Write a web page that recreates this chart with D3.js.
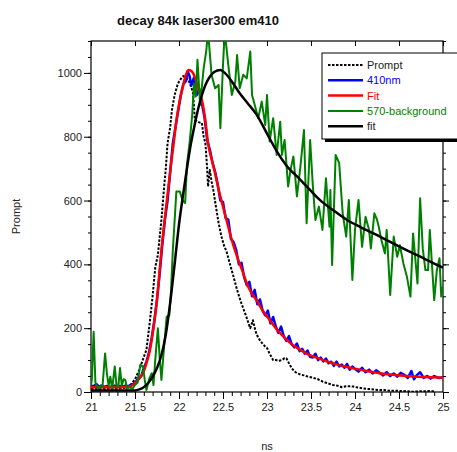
<!DOCTYPE html>
<html>
<head>
<meta charset="utf-8">
<script src="https://cdn.jsdelivr.net/npm/d3@7"></script>
<style>
  body { margin: 0; background: #fff; }
  svg { display: block; font-family: "Liberation Sans", Arial, sans-serif; }
  .axis text { font-size: 11px; fill: #222; }
  .axis path, .axis line { stroke: #000; }
</style>
</head>
<body>
<div id="viz"></div>
<script>
// Datos: [ns, cuentas]
let prompt = [
  [21.00,10],[21.05,10],[21.10,9],[21.15,10],[21.20,9],[21.25,10],[21.30,10],[21.35,11],[21.40,14],[21.45,22],
  [21.50,40],[21.55,70],[21.60,110],[21.63,132],[21.66,200],[21.70,300],[21.73,390],[21.76,430],[21.80,539],[21.83,640],
  [21.85,700],[21.87,780],[21.90,830],[21.92,884],[21.95,930],[21.98,960],[22.00,973],[22.03,985],[22.05,990],[22.08,985],
  [22.11,975],[22.14,955],[22.16,937],[22.18,853],[22.20,850],[22.23,845],[22.26,843],[22.28,800],[22.30,780],[22.32,700],
  [22.33,644],[22.35,696],[22.37,660],[22.39,633],[22.42,580],[22.45,530],[22.48,490],[22.51,460],[22.54,440],[22.58,400],
  [22.62,361],[22.66,320],[22.70,285],[22.73,262],[22.76,240],[22.79,215],[22.81,200],[22.84,225],[22.87,190],[22.90,170],
  [22.94,155],[22.97,145],[23.00,138],[23.03,120],[23.07,100],[23.10,100],[23.13,98],[23.17,100],[23.20,106],[23.22,106],
  [23.25,90],[23.28,75],[23.31,65],[23.34,59],[23.38,55],[23.42,52],[23.47,48],[23.53,44],[23.58,40],[23.63,33],
  [23.68,28],[23.75,22],[23.80,20],[23.85,15],[23.90,18],[23.95,18],[23.98,17],[24.03,14],[24.08,12],[24.13,10],
  [24.18,9],[24.23,7],[24.28,6],[24.33,6],[24.40,4],[24.47,4],[24.54,3],[24.60,2],[24.66,1],[24.72,2],
  [24.78,2],[24.84,3],[24.90,2]
];

let em410 = [
  [21.00,20],[21.03,18],[21.06,25],[21.09,17],[21.12,20],[21.15,16],[21.18,19],[21.21,15],[21.24,18],[21.27,20],
  [21.30,16],[21.33,19],[21.36,17],[21.39,20],[21.42,18],[21.45,22],[21.48,25],[21.51,32],[21.54,45],[21.57,50],
  [21.60,75],[21.63,95],[21.66,125],[21.69,170],[21.72,225],[21.75,290],[21.78,370],[21.81,460],[21.84,540],[21.87,600],
  [21.90,690],[21.93,780],[21.96,830],[21.99,880],[22.02,930],[22.05,965],[22.08,975],[22.10,1005],[22.12,990],[22.14,960],
  [22.17,985],[22.20,930],[22.23,950],[22.26,905],[22.29,860],[22.32,790],[22.35,760],[22.38,720],[22.41,690],[22.44,650],
  [22.47,600],[22.50,595],[22.53,545],[22.56,540],[22.59,480],[22.62,470],[22.65,445],[22.68,400],[22.71,405],[22.74,360],
  [22.77,335],[22.80,345],[22.83,300],[22.86,320],[22.89,275],[22.92,290],[22.95,255],[22.98,240],[23.01,255],[23.04,215],
  [23.07,235],[23.10,205],[23.13,185],[23.16,205],[23.19,175],[23.22,160],[23.25,175],[23.28,150],[23.31,140],[23.34,152],
  [23.37,128],[23.40,135],[23.43,120],[23.46,130],[23.49,110],[23.52,108],[23.55,120],[23.58,100],[23.61,108],[23.64,96],
  [23.67,105],[23.70,90],[23.73,95],[23.76,82],[23.79,95],[23.82,80],[23.85,86],[23.88,76],[23.91,88],[23.94,70],
  [23.97,80],[24.00,72],[24.04,64],[24.08,76],[24.12,62],[24.16,70],[24.20,58],[24.24,68],[24.28,60],[24.32,52],
  [24.36,62],[24.40,50],[24.44,58],[24.48,48],[24.52,60],[24.56,54],[24.60,44],[24.64,66],[24.67,40],[24.70,52],
  [24.74,62],[24.78,44],[24.82,50],[24.86,42],[24.90,50],[24.95,44],[25.00,46]
];

let fit410 = [
  [21.00,15],[21.20,15],[21.40,16],[21.44,17],[21.50,28],[21.55,42],[21.59,59],[21.63,90],[21.67,132],[21.71,200],
  [21.75,288],[21.78,380],[21.80,445],[21.84,545],[21.88,644],[21.91,715],[21.94,780],[21.97,850],[22.01,915],[22.05,965],
  [22.08,995],[22.11,1009],[22.14,1006],[22.16,999],[22.20,970],[22.23,940],[22.26,915],[22.30,850],[22.33,780],[22.37,730],
  [22.41,686],[22.45,635],[22.50,581],[22.55,528],[22.60,476],[22.66,424],[22.72,380],[22.77,340],[22.82,312],[22.88,288],
  [22.95,255],[23.03,226],[23.10,200],[23.19,173],[23.28,150],[23.38,132],[23.45,120],[23.53,111],[23.64,100],[23.75,90],
  [23.86,81],[23.98,74],[24.13,66],[24.28,59],[24.43,54],[24.59,50],[24.80,47],[25.00,45]
];

let bg570 = [
  [21.00,20],[21.01,40],[21.03,189],[21.05,30],[21.07,15],[21.09,10],[21.11,20],[21.13,15],[21.16,121],[21.18,60],
  [21.20,20],[21.22,48],[21.24,10],[21.27,80],[21.29,20],[21.31,15],[21.33,75],[21.35,20],[21.37,40],[21.39,38],
  [21.41,10],[21.44,15],[21.47,10],[21.50,22],[21.53,30],[21.56,85],[21.59,80],[21.61,40],[21.63,6],[21.66,40],
  [21.69,59],[21.71,22],[21.73,100],[21.76,200],[21.78,110],[21.80,38],[21.83,140],[21.86,236],[21.89,240],[21.91,320],
  [21.93,445],[21.97,628],[22.01,628],[22.04,600],[22.07,592],[22.09,712],[22.12,780],[22.15,868],[22.17,967],[22.19,926],
  [22.21,1041],[22.24,900],[22.28,1014],[22.31,1070],[22.33,1130],[22.37,994],[22.41,952],[22.45,962],[22.47,827],[22.50,1025],
  [22.52,1130],[22.56,1025],[22.60,931],[22.64,973],[22.66,1056],[22.69,952],[22.73,994],[22.77,983],[22.81,1067],[22.83,931],
  [22.86,900],[22.90,858],[22.94,910],[22.98,837],[23.00,931],[23.03,785],[23.07,858],[23.11,743],[23.15,847],[23.17,743],
  [23.20,790],[23.24,644],[23.27,700],[23.30,738],[23.34,613],[23.38,707],[23.42,821],[23.45,529],[23.49,790],[23.52,650],
  [23.55,539],[23.59,581],[23.63,508],[23.67,670],[23.71,518],[23.72,633],[23.74,398],[23.78,743],[23.82,717],[23.86,560],
  [23.90,487],[23.93,602],[23.97,351],[24.00,508],[24.04,602],[24.08,455],[24.12,549],[24.16,508],[24.18,450],[24.22,560],
  [24.25,540],[24.27,518],[24.30,476],[24.34,434],[24.36,508],[24.40,304],[24.44,487],[24.48,424],[24.51,460],[24.55,403],
  [24.59,361],[24.63,299],[24.66,497],[24.71,340],[24.74,607],[24.77,450],[24.80,382],[24.83,382],[24.85,508],[24.90,288],
  [24.93,382],[24.96,419],[24.98,299],[25.00,330]
];

let fit570 = [
  [21.00,5],[21.50,5],[21.55,8],[21.60,15],[21.65,28],[21.70,48],[21.75,75],[21.80,115],[21.85,180],[21.90,280],
  [21.95,400],[22.00,525],[22.05,625],[22.09,700],[22.13,770],[22.18,840],[22.22,890],[22.26,930],[22.30,962],[22.35,988],
  [22.40,1003],[22.47,1009],[22.52,1000],[22.56,988],[22.62,965],[22.69,936],[22.78,905],[22.88,870],[23.00,810],
  [23.11,755],[23.22,710],[23.38,665],[23.50,630],[23.60,602],[23.75,570],[23.91,539],[24.06,517],[24.21,497],[24.36,476],
  [24.51,455],[24.65,436],[24.78,419],[24.90,402],[25.00,390]
];

let xTicks = [21, 21.5, 22, 22.5, 23, 23.5, 24, 24.5, 25];
let yTicks = [0, 200, 400, 600, 800, 1000];

let series = [
  { name: 'Prompt',         datos: prompt, color: '#000000', dash: '2.5,1.5', ancho: 2,   suave: false },
  { name: '410nm',          datos: em410,  color: '#0000ff', dash: null,      ancho: 2.5, suave: false },
  { name: 'Fit',            datos: fit410, color: '#ff0000', dash: null,      ancho: 2.5, suave: true },
  { name: '570-background', datos: bg570,  color: '#008000', dash: null,      ancho: 2,   suave: false },
  { name: 'fit',            datos: fit570, color: '#000000', dash: null,      ancho: 2.5, suave: true }
];

// Dimensiones
let w = 457;
let h = 452;
let izq = 91, der = 443, arriba = 41, abajo = 392;

let svg = d3.select('#viz')
  .append('svg')
    .attr('width', w)
    .attr('height', h);

let x = d3.scaleLinear().domain([21, 25]).range([izq, der]);
let y = d3.scaleLinear().domain([0, 1100]).range([abajo, arriba]);

svg.append('clipPath')
    .attr('id', 'recorte')
  .append('rect')
    .attr('x', izq).attr('y', arriba)
    .attr('width', der - izq).attr('height', abajo - arriba);

// Ejes
let menoresX = d3.range(210, 251).map(d => d / 10);
let menoresY = d3.range(0, 1101, 50);

// Eje X abajo
svg.append('g').attr('class', 'axis')
  .attr('transform', `translate(0,${abajo})`)
  .call(d3.axisBottom(x).tickValues(menoresX).tickSize(4).tickFormat(''))
  .call(g => g.select('.domain').remove());
svg.append('g').attr('class', 'axis')
  .attr('transform', `translate(0,${abajo})`)
  .call(d3.axisBottom(x).tickValues(xTicks).tickSize(7).tickPadding(4).tickFormat(d3.format('')))
  .call(g => g.select('.domain').remove());

// Eje X arriba (ticks hacia adentro)
svg.append('g').attr('class', 'axis')
  .attr('transform', `translate(0,${arriba})`)
  .call(d3.axisBottom(x).tickValues(xTicks).tickSize(5).tickFormat(''))
  .call(g => g.select('.domain').remove());

// Eje Y izquierda
svg.append('g').attr('class', 'axis')
  .attr('transform', `translate(${izq},0)`)
  .call(d3.axisLeft(y).tickValues(menoresY).tickSize(3).tickFormat(''))
  .call(g => g.select('.domain').remove());
svg.append('g').attr('class', 'axis')
  .attr('transform', `translate(${izq},0)`)
  .call(d3.axisLeft(y).tickValues(yTicks).tickSize(7).tickPadding(2).tickFormat(d3.format('d')))
  .call(g => g.select('.domain').remove());

// Eje Y derecha
svg.append('g').attr('class', 'axis')
  .attr('transform', `translate(${der},0)`)
  .call(d3.axisRight(y).tickValues(menoresY).tickSize(3).tickFormat(''))
  .call(g => g.select('.domain').remove());
svg.append('g').attr('class', 'axis')
  .attr('transform', `translate(${der},0)`)
  .call(d3.axisRight(y).tickValues(yTicks).tickSize(6).tickFormat(''))
  .call(g => g.select('.domain').remove());

// Marco
svg.append('rect')
  .attr('x', izq).attr('y', arriba)
  .attr('width', der - izq).attr('height', abajo - arriba)
  .attr('fill', 'none').attr('stroke', '#000').attr('stroke-width', 1.2);

// Curvas
let capa = svg.append('g').attr('clip-path', 'url(#recorte)');
series.forEach(function(s) {
  let linea = d3.line()
    .x(d => x(d[0]))
    .y(d => y(d[1]))
    .curve(s.suave ? d3.curveMonotoneX : d3.curveLinear);
  capa.append('path')
    .datum(s.datos)
    .attr('d', linea)
    .attr('fill', 'none')
    .attr('stroke', s.color)
    .attr('stroke-width', s.ancho)
    .attr('stroke-linejoin', 'round')
    .attr('stroke-dasharray', s.dash);
});

// Leyenda
let lx = 322, ly = 53;
svg.append('rect')
  .attr('x', lx + 3).attr('y', ly + 3)
  .attr('width', 150).attr('height', 86)
  .attr('fill', '#000');
svg.append('rect')
  .attr('x', lx).attr('y', ly)
  .attr('width', 150).attr('height', 86)
  .attr('fill', '#fff').attr('stroke', '#000').attr('stroke-width', 1);

series.forEach(function(s, i) {
  let yy = ly + 12 + i * 15.3;
  svg.append('line')
    .attr('x1', lx + 6).attr('x2', lx + 41)
    .attr('y1', yy).attr('y2', yy)
    .attr('stroke', s.color)
    .attr('stroke-width', s.ancho)
    .attr('stroke-dasharray', s.dash);
  svg.append('text')
    .attr('x', lx + 45).attr('y', yy + 4)
    .style('font-size', '11px')
    .attr('fill', s.color === '#000000' ? '#222' : s.color)
    .text(s.name);
});

// Títulos
svg.append('text')
  .attr('x', 198).attr('y', 25)
  .attr('text-anchor', 'middle')
  .style('font-size', '13px')
  .style('font-weight', 'bold')
  .attr('fill', '#111')
  .text('decay 84k laser300 em410');

svg.append('text')
  .attr('x', (izq + der) / 2).attr('y', 450)
  .attr('text-anchor', 'middle')
  .style('font-size', '11px')
  .attr('fill', '#222')
  .text('ns');

svg.append('text')
  .attr('transform', `translate(20,${(arriba + abajo) / 2}) rotate(-90)`)
  .attr('text-anchor', 'middle')
  .style('font-size', '11px')
  .attr('fill', '#222')
  .text('Prompt');
</script>
</body>
</html>
